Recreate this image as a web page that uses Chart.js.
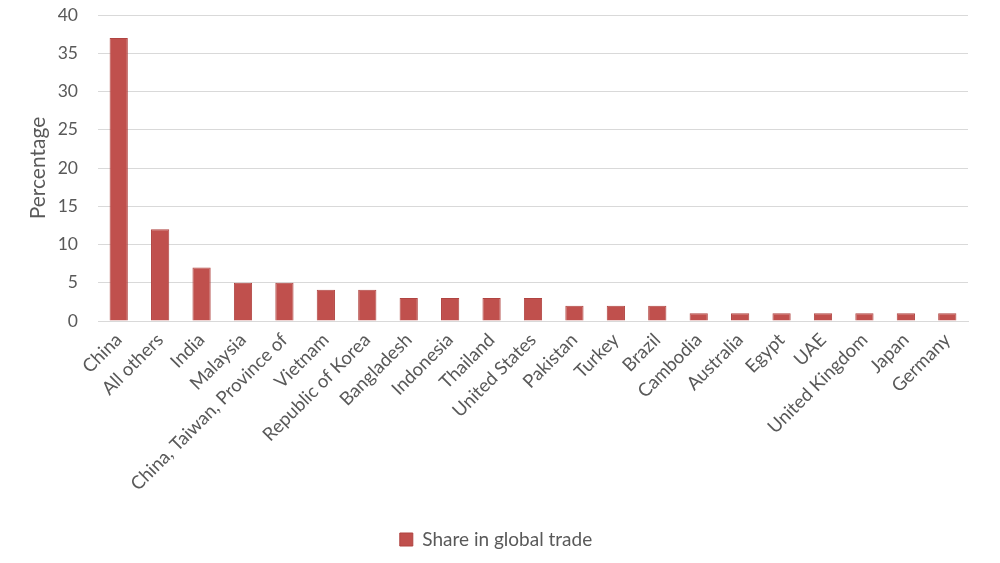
<!DOCTYPE html>
<html>
<head>
<meta charset="utf-8">
<script src="https://cdn.jsdelivr.net/npm/chart.js@4"></script>
<style>
  html, body { margin: 0; padding: 0; background: #fff; }
  #wrap { width: 1000px; height: 563px; }
</style>
</head>
<body>
<div id="wrap"><canvas id="chart"></canvas></div>
<script>
// categories and values
const countries = [
    "China", "All others", "India", "Malaysia", "China, Taiwan, Province of",
    "Vietnam", "Republic of Korea", "Bangladesh", "Indonesia", "Thailand",
    "United States", "Pakistan", "Turkey", "Brazil", "Cambodia",
    "Australia", "Egypt", "UAE", "United Kingdom", "Japan", "Germany"
];
const shareValues = [37, 12, 7, 5, 5, 4.1, 4.1, 3, 3, 3, 3, 2, 2, 2, 1, 1, 1, 1, 1, 1, 1];
const seriesName = "Share in global trade";
const yTicks = [0, 5, 10, 15, 20, 25, 30, 35, 40];

const textColor = "#595959";
const fontFamily = "Lato, 'Open Sans', sans-serif";

const ctx = document.getElementById("chart").getContext("2d");

new Chart(ctx, {
    type: "bar",
    data: {
        labels: countries,
        datasets: [{
            label: seriesName,
            data: shareValues,
            backgroundColor: "#C0504D",
            borderColor: "#B04441",
            borderWidth: 1,
            barPercentage: 0.44,
            categoryPercentage: 1
        }]
    },
    options: {
        responsive: true,
        maintainAspectRatio: false,
        animation: false,
        layout: { padding: { top: 0, right: 32, bottom: 4, left: 24 } },
        plugins: {
            legend: {
                position: "bottom",
                labels: {
                    color: textColor,
                    font: { family: fontFamily, size: 19 },
                    boxWidth: 13,
                    boxHeight: 13,
                    padding: 10
                }
            },
            tooltip: { enabled: false }
        },
        scales: {
            x: {
                grid: { display: false },
                border: { color: "#d9d9d9" },
                ticks: {
                    color: textColor,
                    font: { family: fontFamily, size: 18.5 },
                    minRotation: 45,
                    maxRotation: 45,
                    autoSkip: false,
                    padding: 0
                },
                afterFit: (scale) => { scale.height = 199; }
            },
            y: {
                min: 0,
                max: 40,
                afterBuildTicks: (scale) => { scale.ticks = yTicks.map(v => ({ value: v })); },
                grid: { color: "#d9d9d9", lineWidth: 1, drawTicks: false },
                border: { display: false },
                ticks: {
                    color: textColor,
                    font: { family: fontFamily, size: 17.5 },
                    padding: 20
                },
                title: {
                    display: true,
                    text: "Percentage",
                    color: textColor,
                    font: { family: fontFamily, size: 21 },
                    padding: 2
                },
                afterFit: (scale) => {
                    scale.width = 74;
                    // tick padding would otherwise push the plot top down
                    scale.paddingTop = 15;
                    scale.paddingBottom = 0;
                }
            }
        }
    }
});
</script>
</body>
</html>
